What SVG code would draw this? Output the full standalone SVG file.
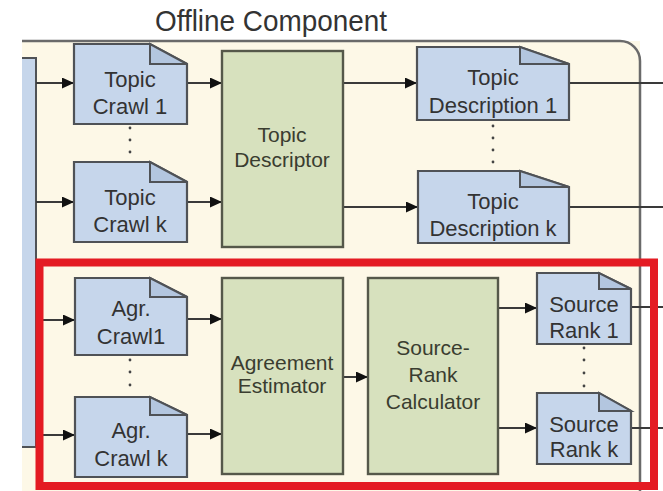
<svg xmlns="http://www.w3.org/2000/svg" width="663" height="491" viewBox="0 0 663 491">
<defs>
<marker id="ah" markerUnits="userSpaceOnUse" markerWidth="13" markerHeight="11" refX="12" refY="5.5" orient="auto"><path d="M0,0 L12,5.5 L0,11 Z" fill="#111"/></marker>
<style>
.doc{fill:#C6D6EB;stroke:#4f5256;stroke-width:2.2}
.fold{fill:#B3C6DF;stroke:#4f5256;stroke-width:2}
.proc{fill:#D7E1BE;stroke:#55584a;stroke-width:2.4}
.t{font-family:"Liberation Sans",Arial,sans-serif;font-size:22px;fill:#333;text-anchor:middle}
.tg{font-family:"Liberation Sans",Arial,sans-serif;font-size:21px;fill:#3a3d30;text-anchor:middle}
.ln{stroke:#3a3a3a;stroke-width:2;fill:none}
.ar{stroke:#3a3a3a;stroke-width:2;fill:none;marker-end:url(#ah)}
.dot{fill:#444}
</style>
</defs>
<rect x="0" y="0" width="663" height="491" fill="#ffffff"/>
<text x="271" y="31" font-family="'Liberation Sans',Arial,sans-serif" font-size="30" fill="#333" text-anchor="middle" textLength="232" lengthAdjust="spacingAndGlyphs">Offline Component</text>
<g id="container">
<rect x="22" y="41" width="618" height="460" fill="#FDF8E7"/>
<path d="M22,41 H620 A20,20 0 0 1 640,61 V500" fill="none" stroke="#6a6a6a" stroke-width="2.5"/>
</g>
<g id="source-left">
<rect x="22" y="58" width="14" height="389" fill="#C6D6EB"/>
<path d="M22,58 H36 V447 H22" fill="none" stroke="#4f5256" stroke-width="2"/>
</g>
<g id="connectors">
<line class="ar" x1="36" y1="83" x2="74" y2="83"/>
<line class="ar" x1="36" y1="202" x2="74" y2="202"/>
<line class="ar" x1="187" y1="83" x2="222" y2="83"/>
<line class="ar" x1="187" y1="202" x2="222" y2="202"/>
<line class="ar" x1="343" y1="83" x2="417" y2="83"/>
<line class="ar" x1="343" y1="207" x2="418" y2="207"/>
<line class="ln" x1="569" y1="83" x2="663" y2="83"/>
<line class="ln" x1="569" y1="207" x2="663" y2="207"/>
<line class="ar" x1="36" y1="320" x2="75" y2="320"/>
<line class="ar" x1="36" y1="435" x2="75" y2="435"/>
<line class="ar" x1="187" y1="319" x2="222" y2="319"/>
<line class="ar" x1="187" y1="434" x2="222" y2="434"/>
<line class="ar" x1="343" y1="377" x2="368" y2="377"/>
<line class="ar" x1="498" y1="308" x2="537" y2="308"/>
<line class="ar" x1="498" y1="428" x2="537" y2="428"/>
<line class="ln" x1="631" y1="307" x2="663" y2="307"/>
<line class="ln" x1="631" y1="428" x2="663" y2="428"/>
</g>
<g id="dots">
<circle class="dot" cx="130" cy="128" r="1.4"/><circle class="dot" cx="130" cy="140" r="1.4"/><circle class="dot" cx="130" cy="152" r="1.4"/>
<circle class="dot" cx="493" cy="126" r="1.4"/><circle class="dot" cx="493" cy="138" r="1.4"/><circle class="dot" cx="493" cy="150" r="1.4"/><circle class="dot" cx="493" cy="162" r="1.4"/>
<circle class="dot" cx="130" cy="360" r="1.4"/><circle class="dot" cx="130" cy="372" r="1.4"/><circle class="dot" cx="130" cy="385" r="1.4"/>
<circle class="dot" cx="584" cy="348" r="1.4"/><circle class="dot" cx="584" cy="360" r="1.4"/><circle class="dot" cx="584" cy="373" r="1.4"/><circle class="dot" cx="584" cy="386" r="1.4"/>
</g>
<g id="topic-crawl-1">
<path class="doc" d="M74,44 H150 L187,64 V124 H74 Z"/><path class="fold" d="M150,44 V64 H187 Z"/>
<text class="t" x="130" y="87">Topic</text><text class="t" x="130" y="114">Crawl 1</text>
</g>
<g id="topic-crawl-k">
<path class="doc" d="M74,162 H150 L187,182 V242 H74 Z"/><path class="fold" d="M150,162 V182 H187 Z"/>
<text class="t" x="130" y="205">Topic</text><text class="t" x="130" y="232">Crawl k</text>
</g>
<g id="topic-descriptor">
<rect class="proc" x="222" y="51" width="121" height="196"/>
<text class="tg" x="282" y="142">Topic</text><text class="tg" x="282" y="167">Descriptor</text>
</g>
<g id="topic-description-1">
<path class="doc" d="M417,47 H520 L569,64 V120 H417 Z"/><path class="fold" d="M520,47 V64 H569 Z"/>
<text class="t" x="493" y="85">Topic</text><text class="t" x="493" y="113">Description 1</text>
</g>
<g id="topic-description-k">
<path class="doc" d="M418,171 H520 L569,187 V243 H418 Z"/><path class="fold" d="M520,171 V187 H569 Z"/>
<text class="t" x="493" y="209">Topic</text><text class="t" x="493" y="236">Description k</text>
</g>
<g id="agr-crawl-1">
<path class="doc" d="M75,278 H150 L187,297 V355 H75 Z"/><path class="fold" d="M150,278 V297 H187 Z"/>
<text class="t" x="131" y="316">Agr.</text><text class="t" x="131" y="344">Crawl1</text>
</g>
<g id="agr-crawl-k">
<path class="doc" d="M75,397 H150 L187,415 V477 H75 Z"/><path class="fold" d="M150,397 V415 H187 Z"/>
<text class="t" x="131" y="438">Agr.</text><text class="t" x="131" y="466">Crawl k</text>
</g>
<g id="agreement-estimator">
<rect class="proc" x="222" y="278" width="121" height="196"/>
<text class="tg" x="282" y="370">Agreement</text><text class="tg" x="282" y="393">Estimator</text>
</g>
<g id="source-rank-calculator">
<rect class="proc" x="368" y="278" width="130" height="196"/>
<text class="tg" x="433" y="355">Source-</text><text class="tg" x="433" y="382">Rank</text><text class="tg" x="433" y="409">Calculator</text>
</g>
<g id="source-rank-1">
<path class="doc" d="M537,273 H599 L631,289 V344 H537 Z"/><path class="fold" d="M599,273 V289 H631 Z"/>
<text class="t" x="584" y="312">Source</text><text class="t" x="584" y="338">Rank 1</text>
</g>
<g id="source-rank-k">
<path class="doc" d="M537,393 H599 L631,411 V464 H537 Z"/><path class="fold" d="M599,393 V411 H631 Z"/>
<text class="t" x="584" y="432">Source</text><text class="t" x="584" y="457">Rank k</text>
</g>
<g id="highlight">
<rect x="39.5" y="262.5" width="614.5" height="223.5" fill="none" stroke="#E41B23" stroke-width="8"/>
</g>
</svg>
